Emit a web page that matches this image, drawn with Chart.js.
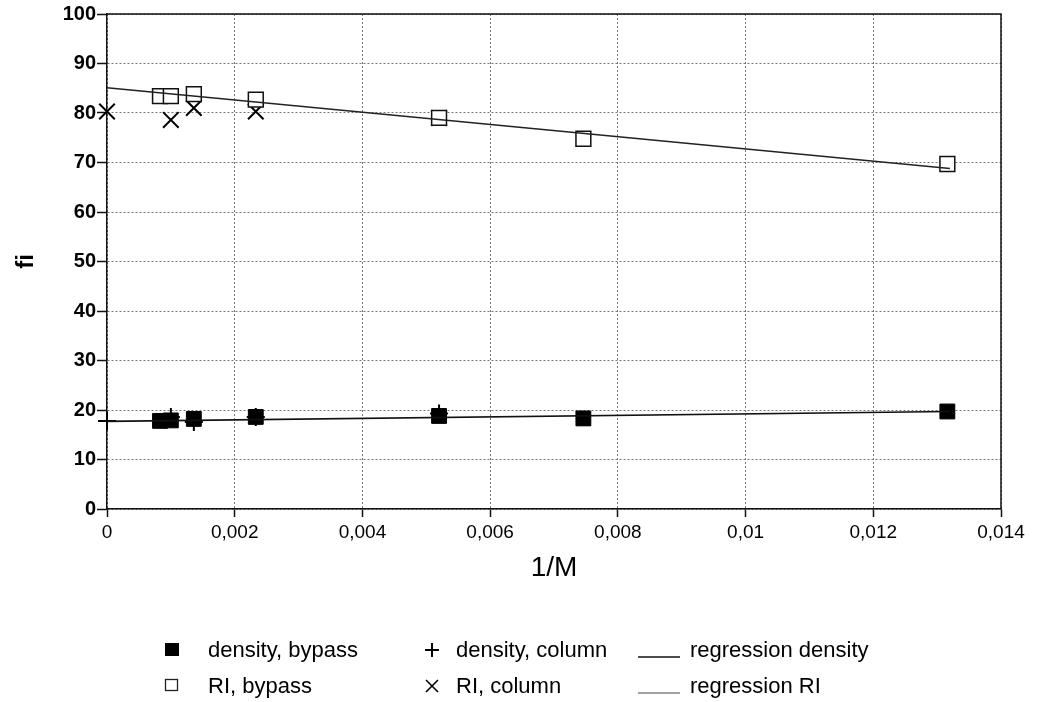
<!DOCTYPE html>
<html>
<head>
<meta charset="utf-8">
<script src="https://cdn.jsdelivr.net/npm/chart.js@4.4.1/dist/chart.umd.min.js"></script>
<style>
  html, body { margin: 0; padding: 0; background: #fff; }
  #wrap { position: relative; width: 1038px; height: 702px; font-family: "Liberation Sans", Arial, sans-serif; }
  #c { position: absolute; left: 0; top: 0; }
  .lg { position: absolute; font-size: 22px; color: #000; line-height: 26px; white-space: nowrap; }
  .mk { position: absolute; }
</style>
</head>
<body>
<div id="wrap">
  <canvas id="c" width="1038" height="702"></canvas>
</div>
<script>
// ---- data ----
const xBypass        = [0.00083, 0.001, 0.00136, 0.00233, 0.0052, 0.00746, 0.01316];
const densityBypass  = [17.8, 17.9, 18.2, 18.6, 18.8, 18.3, 19.7];
const riBypass       = [83.4, 83.4, 83.8, 82.7, 79.0, 74.8, 69.7];
const xColumn        = [0, 0.001, 0.00136, 0.00233, 0.0052];
const densityColumn  = [17.8, 18.6, 17.6, 18.6, 19.3];
const riColumn       = [80.3, 78.6, 81.0, 80.3, 79.0];
const xRegression    = [0, 0.0132];
const regressionDensity = [17.7, 19.7];
const regressionRI      = [85.1, 68.8];
const xTickValues = [0, 0.002, 0.004, 0.006, 0.008, 0.01, 0.012, 0.014];
const xTickLabels = ["0", "0,002", "0,004", "0,006", "0,008", "0,01", "0,012", "0,014"];
const yTickValues = [0, 10, 20, 30, 40, 50, 60, 70, 80, 90, 100];
const seriesNames = ["density, bypass", "density, column", "regression density",
                     "RI, bypass", "RI, column", "regression RI"];

const pts = (xs, ys) => xs.map((x, i) => ({x: x, y: ys[i]}));

const framePlugin = {
  id: 'frame',
  afterDatasetsDraw(chart) {
    const {ctx, chartArea: a} = chart;
    ctx.save();
    ctx.strokeStyle = '#111';
    ctx.lineWidth = 1.5;
    ctx.beginPath();
    ctx.moveTo(a.left, a.top);
    ctx.lineTo(a.right, a.top);
    ctx.lineTo(a.right, a.bottom);
    ctx.stroke();
    ctx.restore();
  }
};

new Chart(document.getElementById('c'), {
  type: 'scatter',
  data: {
    datasets: [
      { label: seriesNames[2], type: 'line', data: pts(xRegression, regressionDensity),
        borderColor: '#111', borderWidth: 1.6, pointRadius: 0, fill: false, order: 1, clip: false },
      { label: seriesNames[5], type: 'line', data: pts(xRegression, regressionRI),
        borderColor: '#222', borderWidth: 1.4, pointRadius: 0, fill: false, order: 1, clip: false },
      { label: seriesNames[0], data: pts(xBypass, densityBypass), clip: false,
        pointStyle: 'rect', pointRadius: 10.5, backgroundColor: '#000', borderColor: '#000', borderWidth: 1, order: 2 },
      { label: seriesNames[1], data: pts(xColumn, densityColumn), clip: false,
        pointStyle: 'cross', pointRadius: 9, borderColor: '#000', borderWidth: 2, order: 3 },
      { label: seriesNames[3], data: pts(xBypass, riBypass), clip: false,
        pointStyle: 'rect', pointRadius: 10.5, backgroundColor: '#fff', borderColor: '#111', borderWidth: 1.5, order: 2 },
      { label: seriesNames[4], data: pts(xColumn, riColumn), clip: false,
        pointStyle: 'crossRot', pointRadius: 11, borderColor: '#000', borderWidth: 2, order: 3 }
    ]
  },
  options: {
    responsive: false,
    animation: false,
    layout: { padding: { left: 0, right: 37, top: 14, bottom: 113 } },
    plugins: { legend: { display: false }, tooltip: { enabled: false } },
    scales: {
      x: {
        type: 'linear', min: 0, max: 0.014,
        afterBuildTicks: s => { s.ticks = xTickValues.map(v => ({value: v})); },
        afterFit: s => { s.height = 80; },
        ticks: {
          color: '#000', padding: 4, maxRotation: 0, autoSkip: false,
          font: { family: '"Liberation Sans", Arial, sans-serif', size: 19 },
          callback: (v, i) => xTickLabels[i]
        },
        grid: { color: '#777', lineWidth: 1, tickColor: '#111', tickLength: 8, tickWidth: 1.5 },
        border: { color: '#111', width: 1.5, dash: [2, 2] },
        title: { display: true, text: '1/M', color: '#000',
          font: { family: '"Liberation Sans", Arial, sans-serif', size: 28 }, padding: { top: 0, bottom: 4 } }
      },
      y: {
        min: 0, max: 100,
        afterBuildTicks: s => { s.ticks = yTickValues.map(v => ({value: v})); },
        afterFit: s => { s.width = 107; },
        ticks: {
          color: '#000', padding: 1,
          font: { family: '"Liberation Sans", Arial, sans-serif', size: 20, weight: 'bold' }
        },
        grid: { color: '#777', lineWidth: 1, tickColor: '#111', tickLength: 10, tickWidth: 1.5 },
        border: { color: '#111', width: 1.5, dash: [2, 2] },
        title: { display: true, text: 'fi', color: '#000',
          font: { family: '"Liberation Sans", Arial, sans-serif', size: 24, weight: 'bold' }, padding: { top: 12, bottom: 0 } }
      }
    }
  },
  plugins: [framePlugin]
});

// ---- legend (HTML, real text) ----
const wrap = document.getElementById('wrap');
const markers = [
  '<svg width="16" height="16"><rect x="1" y="1" width="14" height="13" fill="#000"/></svg>',
  '<svg width="16" height="16"><path d="M8 1 V15 M1 8 H15" stroke="#000" stroke-width="2"/></svg>',
  '<svg width="42" height="6"><line x1="0" y1="3" x2="42" y2="3" stroke="#111" stroke-width="1.5"/></svg>',
  '<svg width="16" height="16"><rect x="1.5" y="1.5" width="12" height="11" fill="#fff" stroke="#222" stroke-width="1.3"/></svg>',
  '<svg width="16" height="16"><path d="M2 2 L14 14 M14 2 L2 14" stroke="#000" stroke-width="1.6"/></svg>',
  '<svg width="42" height="6"><line x1="0" y1="3" x2="42" y2="3" stroke="#444" stroke-width="1.2"/></svg>'
];
const colMarkerX = [164, 424, 638];
const colTextX = [208, 456, 690];
const rowY = [650, 686];
const order = [[0, 1, 2], [3, 4, 5]];
order.forEach((row, r) => {
  row.forEach((idx, c) => {
    const m = document.createElement('div');
    m.className = 'mk';
    m.innerHTML = markers[idx];
    const isLine = (idx === 2 || idx === 5);
    m.style.left = colMarkerX[c] + 'px';
    m.style.top = (rowY[r] - (isLine ? 4 : 8)) + 'px';
    wrap.appendChild(m);
    const t = document.createElement('div');
    t.className = 'lg';
    t.textContent = seriesNames[idx];
    t.style.left = colTextX[c] + 'px';
    t.style.top = (rowY[r] - 13) + 'px';
    wrap.appendChild(t);
  });
});
</script>
</body>
</html>
